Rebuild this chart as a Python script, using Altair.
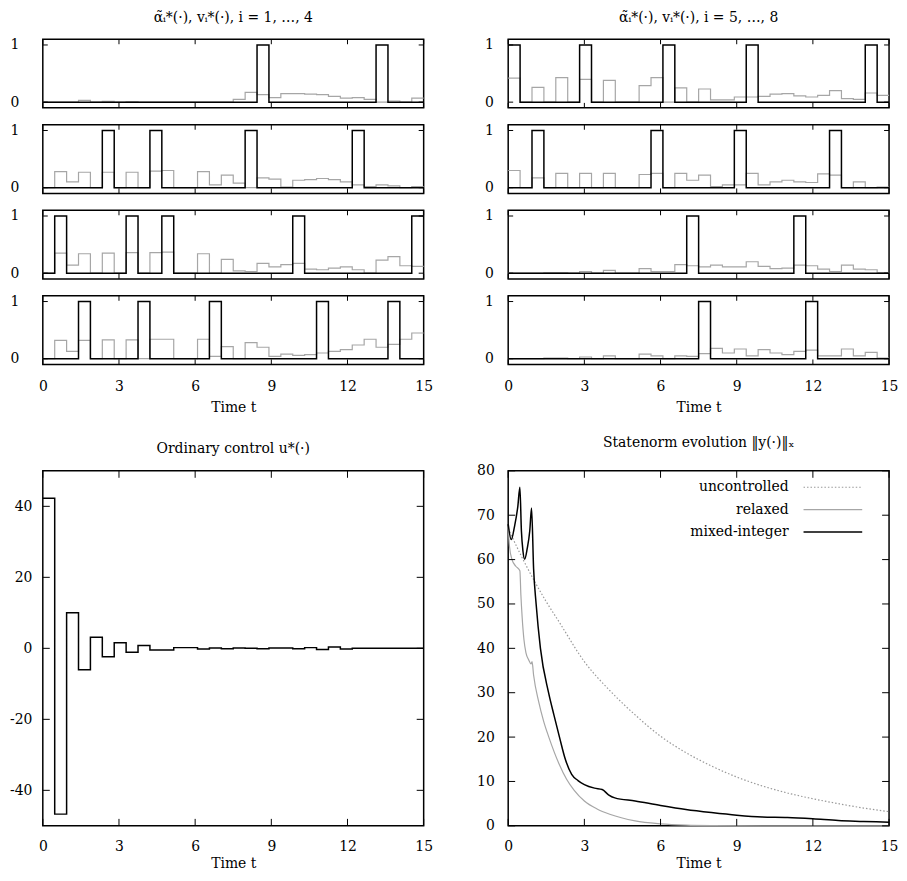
import altair as alt
import pandas as pd

# ---------------- data ----------------
N_INT = 32
T_END = 15.0
DT = T_END / N_INT

# binary controls alpha_i (per control interval, 32 intervals)
alpha1 = [0]*18 + [1] + [0]*9 + [1] + [0]*3
alpha2 = [0]*5 + [1] + [0]*3 + [1] + [0]*7 + [1] + [0]*8 + [1] + [0]*5
alpha3 = [0] + [1] + [0]*5 + [1] + [0]*2 + [1] + [0]*10 + [1] + [0]*9 + [1]
alpha4 = [0]*3 + [1] + [0]*4 + [1] + [0]*5 + [1] + [0]*8 + [1] + [0]*5 + [1] + [0]*2
alpha5 = [1] + [0]*5 + [1] + [0]*6 + [1] + [0]*6 + [1] + [0]*9 + [1] + [0]
alpha6 = [0]*2 + [1] + [0]*9 + [1] + [0]*6 + [1] + [0]*7 + [1] + [0]*4
alpha7 = [0]*15 + [1] + [0]*8 + [1] + [0]*7
alpha8 = [0]*16 + [1] + [0]*8 + [1] + [0]*6

# relaxed controls v_i
v1 = [0, 0, 0, 0.03, 0, 0.015, 0, 0.01, 0, 0, 0, 0, 0, 0, 0, 0,
      0.05, 0.17, 0.13, 0.08, 0.15, 0.15, 0.14, 0.13, 0.10, 0.07, 0.08, 0.05, 0.0, 0.02, 0, 0.07]
v2 = [0, 0.28, 0.10, 0.27, 0, 0.27, 0, 0.27, 0, 0.29, 0.30, 0, 0, 0.28, 0.05, 0.22,
      0.08, 0, 0.17, 0.15, 0.01, 0.13, 0.14, 0.16, 0.14, 0.10, 0.05, 0.02, 0.05, 0.03, 0, 0.02]
v3 = [0, 0.35, 0.14, 0.34, 0, 0.35, 0, 0.36, 0, 0.36, 0.37, 0, 0, 0.34, 0, 0.24,
      0.04, 0.03, 0.17, 0.11, 0.15, 0.17, 0.07, 0.06, 0.09, 0.11, 0.06, 0, 0.23, 0.29, 0.13, 0.12]
v4 = [0, 0.32, 0.13, 0.32, 0, 0.33, 0, 0.33, 0, 0.34, 0.34, 0, 0, 0.34, 0.04, 0.21,
      0, 0.28, 0.20, 0.04, 0.08, 0.06, 0.07, 0.10, 0.13, 0.16, 0.24, 0.34, 0.20, 0.25, 0.34, 0.45]
v5 = [0.42, 0, 0.26, 0, 0.43, 0, 0.40, 0, 0.38, 0, 0, 0.29, 0.43, 0, 0.25, 0,
      0.23, 0.04, 0.04, 0.09, 0.09, 0.10, 0.14, 0.15, 0.11, 0.09, 0.12, 0.20, 0.06, 0.05, 0.16, 0.12]
v6 = [0.30, 0, 0.17, 0, 0.25, 0, 0.25, 0, 0.25, 0, 0, 0.23, 0.25, 0, 0.25, 0.13,
      0.22, 0.02, 0.05, 0.05, 0.25, 0.05, 0.10, 0.13, 0.10, 0.09, 0.24, 0.22, 0, 0.10, 0, 0.01]
v7 = [0, 0, 0, 0.01, 0.01, 0, 0.03, 0, 0.05, 0, 0, 0.08, 0.03, 0.03, 0.15, 0.13,
      0.11, 0.14, 0.11, 0.11, 0.20, 0.12, 0.08, 0.09, 0.14, 0.13, 0.07, 0.03, 0.14, 0.07, 0.06, 0.01]
v8 = [0, 0, 0, 0.01, 0.01, 0, 0.03, 0, 0.05, 0, 0, 0.08, 0.05, 0, 0.05, 0.04,
      0.09, 0.18, 0.10, 0.17, 0.05, 0.16, 0.10, 0.07, 0.13, 0.15, 0.05, 0.05, 0.17, 0.05, 0.11, 0.01]

# ordinary control u
u_vals = [42.3, -46.7, 10.0, -6.0, 3.1, -2.4, 1.6, -1.1, 0.8, -0.45, -0.45, 0.2, 0.2, -0.2, 0.1, -0.1,
          0.1, 0.0, -0.1, 0.1, 0.1, -0.1, 0.2, -0.3, 0.4, -0.2, 0, 0, 0, 0, 0, 0]

# state norm curves
unc_t = [0, 0.5, 1, 1.5, 2, 3, 4, 5, 6, 7, 8, 9, 10, 11, 12, 13, 14, 15]
unc_y = [67, 61, 55.5, 50.5, 46, 37, 30.5, 25, 20.2, 16.5, 13.5, 11, 9, 7.4, 6.1, 5, 4, 3.2]

rel_t = [0, 0.05, 0.15, 0.3, 0.46, 0.5, 0.55, 0.62, 0.7, 0.8, 0.9, 0.94, 1.0, 1.2, 1.4, 1.6,
         2.0, 2.3, 2.6, 3.0, 3.5, 4, 5, 6, 7, 8, 10, 15]
rel_y = [67.5, 63, 60, 58.5, 57.5, 52, 47, 42, 39, 37.5, 36.5, 37, 34, 28, 23.5, 20,
         14, 10.5, 8, 5.6, 3.8, 2.6, 1.1, 0.45, 0.15, 0.05, 0.01, 0]

mi_t = [0, 0.12, 0.25, 0.38, 0.46, 0.52, 0.58, 0.65, 0.75, 0.85, 0.92, 1.0, 1.1, 1.27, 1.59, 1.8,
        2.02, 2.25, 2.5, 2.75, 3.0, 3.4, 3.7, 3.95, 4.2, 5, 6, 7, 8, 9, 10, 11, 12, 13, 14, 15]
mi_y = [68, 64.5, 67.5, 72, 76.3, 66.5, 62, 60.1, 62.5, 66.5, 71.6, 58, 50, 40, 30, 25,
        20, 15, 11.6, 10.2, 9.3, 8.5, 8.2, 7.0, 6.3, 5.6, 4.6, 3.7, 3.0, 2.4, 2.0, 1.9, 1.6, 1.2, 1.0, 0.8]

x_ticks = [0, 3, 6, 9, 12, 15]
small_y_ticks = [0, 1]
u_ticks = [-40, -20, 0, 20, 40]
norm_ticks = [0, 10, 20, 30, 40, 50, 60, 70, 80]

legend_labels = ["uncontrolled", "relaxed", "mixed-integer"]

title_left = "α̃ᵢ*(·), vᵢ*(·), i = 1, …, 4"
title_right = "α̃ᵢ*(·), vᵢ*(·), i = 5, …, 8"
title_u = "Ordinary control u*(·)"
title_norm = "Statenorm evolution ‖y(·)‖ₓ"

# ---------------- styling ----------------
FONT = "DejaVu Serif"
FS = 14
SW, SH = 383, 69
BW, BH = 383, 357
GRAY = "#a6a6a6"
LABEL_EXPR = "datum.value < 0 ? '-' + format(-datum.value, 'd') : format(datum.value, 'd')"


def step_df(vals):
    return pd.DataFrame({"t": [k * DT for k in range(N_INT + 1)],
                         "val": list(vals) + [vals[-1]]})


def curve_df(ts, ys):
    return pd.DataFrame({"t": ts, "val": ys})


def tick_layers(X, Y, xt, yt, w, h, L):
    xdf = pd.DataFrame({"t": xt})
    ydf = pd.DataFrame({"val": yt})
    r = dict(color="black", strokeWidth=1)
    return [
        alt.Chart(xdf).mark_rule(**r).encode(x=X, y=alt.value(h), y2=alt.value(h - L)),
        alt.Chart(xdf).mark_rule(**r).encode(x=X, y=alt.value(0), y2=alt.value(L)),
        alt.Chart(ydf).mark_rule(**r).encode(y=Y, x=alt.value(0), x2=alt.value(L)),
        alt.Chart(ydf).mark_rule(**r).encode(y=Y, x=alt.value(w), x2=alt.value(w - L)),
    ]


def make_title(text, offset):
    return alt.TitleParams(text=text, font=FONT, fontSize=FS, fontWeight="normal",
                           color="black", anchor="middle", frame="group", offset=offset)


def small_panel(alpha, v, show_x, label_pad, title=None):
    xs = alt.Scale(domain=[0, T_END], nice=False, zero=False)
    ys = alt.Scale(domain=[-0.1, 1.1], nice=False, zero=False)
    yaxis = alt.Axis(values=small_y_ticks, title="", labelPadding=label_pad,
                     labelExpr=LABEL_EXPR)
    if show_x:
        X = alt.X("t:Q", scale=xs, axis=alt.Axis(values=x_ticks, title="Time t", labelPadding=15,
                                                 titlePadding=7, labelFlush=False,
                                                 labelExpr=LABEL_EXPR))
    else:
        X = alt.X("t:Q", scale=xs, axis=None)
    Y = alt.Y("val:Q", scale=ys, axis=yaxis)
    gray = alt.Chart(step_df(v)).mark_line(interpolate="step-after", color=GRAY,
                                           strokeWidth=1.2).encode(x=X, y=Y)
    black = alt.Chart(step_df(alpha)).mark_line(interpolate="step-after", color="black",
                                                strokeWidth=1.5).encode(x=X, y=Y)
    layers = [gray, black] + tick_layers(X, Y, x_ticks, small_y_ticks, SW, SH, 5)
    ch = alt.layer(*layers)
    if title is not None:
        return ch.properties(width=SW, height=SH, title=make_title(title, 13))
    return ch.properties(width=SW, height=SH)


def spacer(h):
    return alt.Chart(pd.DataFrame({"a": [0]})).mark_point(opacity=0).encode(
        x=alt.value(0), y=alt.value(0)
    ).properties(width=SW, height=h, view=alt.ViewBackground(strokeOpacity=0))


# ---- ordinary control ----
xs_b = alt.Scale(domain=[0, T_END], nice=False, zero=False)
xaxis_b = alt.Axis(values=x_ticks, title="Time t", labelPadding=14, titlePadding=3,
                   labelFlush=False, labelExpr=LABEL_EXPR)
Xb = alt.X("t:Q", scale=xs_b, axis=xaxis_b)
Yu = alt.Y("val:Q", scale=alt.Scale(domain=[-50, 50], nice=False, zero=False),
           axis=alt.Axis(values=u_ticks, title="", labelPadding=11, labelExpr=LABEL_EXPR))
u_line = alt.Chart(step_df(u_vals)).mark_line(interpolate="step-after", color="black",
                                              strokeWidth=1.5).encode(x=Xb, y=Yu)
u_chart = alt.layer(u_line, *tick_layers(Xb, Yu, x_ticks, u_ticks, BW, BH, 7)).properties(
    width=BW, height=BH, title=make_title(title_u, 14))

# ---- state norm ----
Yn = alt.Y("val:Q", scale=alt.Scale(domain=[0, 80], nice=False, zero=False),
           axis=alt.Axis(values=norm_ticks, title="", labelPadding=14, labelExpr=LABEL_EXPR))
unc_line = alt.Chart(curve_df(unc_t, unc_y)).mark_line(
    color="#999999", strokeWidth=1.2, strokeDash=[1.5, 2], interpolate="monotone").encode(x=Xb, y=Yn)
rel_line = alt.Chart(curve_df(rel_t, rel_y)).mark_line(
    color=GRAY, strokeWidth=1.2, interpolate="monotone").encode(x=Xb, y=Yn)
mi_line = alt.Chart(curve_df(mi_t, mi_y)).mark_line(
    color="black", strokeWidth=1.5, interpolate="monotone").encode(x=Xb, y=Yn)

leg_df = pd.DataFrame({"label": legend_labels})
leg_styles = [dict(color="#999999", strokeWidth=1.2, strokeDash=[1.5, 2]),
              dict(color=GRAY, strokeWidth=1.2),
              dict(color="black", strokeWidth=1.5)]
leg_layers = []
for i, (lab, st) in enumerate(zip(legend_labels, leg_styles)):
    ypos = 16.5 + 22.5 * i
    one = leg_df[leg_df["label"] == lab]
    leg_layers.append(
        alt.Chart(one).mark_text(align="right", baseline="middle", font=FONT, fontSize=FS,
                                 color="black").encode(text="label:N", x=alt.value(282),
                                                        y=alt.value(ypos)))
    leg_layers.append(
        alt.Chart(one).mark_rule(**st).encode(x=alt.value(297), x2=alt.value(356),
                                              y=alt.value(ypos)))

norm_chart = alt.layer(unc_line, rel_line, mi_line,
                       *tick_layers(Xb, Yn, x_ticks, norm_ticks, BW, BH, 7),
                       *leg_layers).properties(width=BW, height=BH,
                                               title=make_title(title_norm, 14))

cells = [
    small_panel(alpha1, v1, False, 24, title_left), small_panel(alpha5, v5, False, 15, title_right),
    small_panel(alpha2, v2, False, 24), small_panel(alpha6, v6, False, 15),
    small_panel(alpha3, v3, False, 24), small_panel(alpha7, v7, False, 15),
    small_panel(alpha4, v4, True, 24), small_panel(alpha8, v8, True, 15),
    spacer(73), spacer(73),
    u_chart, norm_chart,
]

chart = alt.concat(*cells, columns=2, spacing=alt.RowColnumber(row=17, column=85),
                   bounds="flush", padding=0).configure_view(
    stroke="black", strokeWidth=1.5
).configure_axis(
    labelFont=FONT, titleFont=FONT, labelFontSize=FS, titleFontSize=FS,
    labelColor="black", titleColor="black", titleFontWeight="normal",
    grid=False, ticks=False, domain=False
).configure_title(font=FONT, fontSize=FS, fontWeight="normal", color="black")

chart.save("out.html", embed_options={"renderer": "svg", "actions": False})
